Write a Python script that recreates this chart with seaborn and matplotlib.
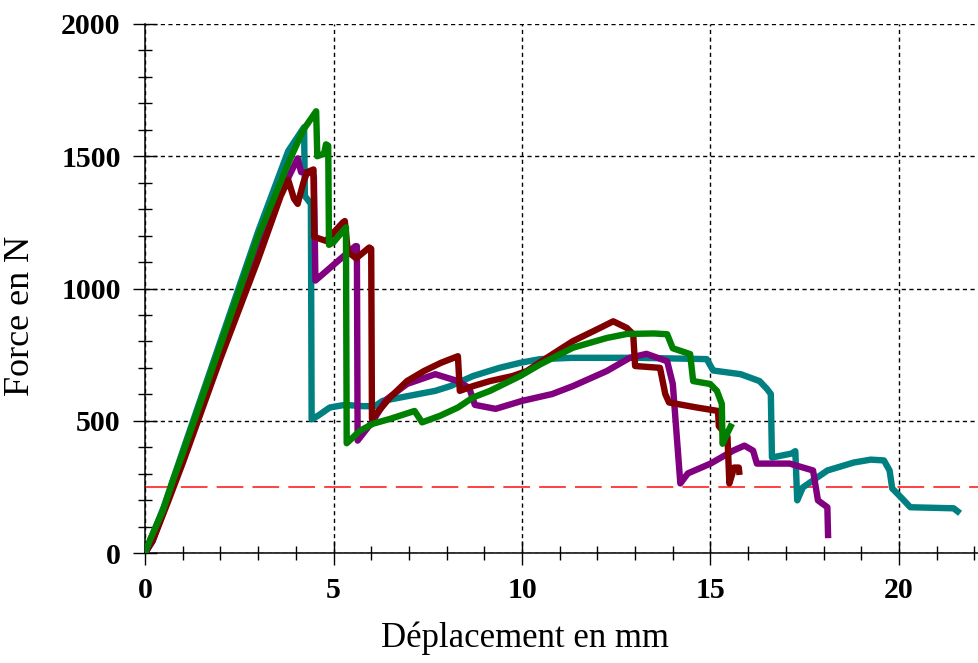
import numpy as np
import pandas as pd
import matplotlib
matplotlib.use("Agg")
import matplotlib.pyplot as plt
from matplotlib.ticker import MultipleLocator
import seaborn as sns

# Force–displacement curves of the tested specimens (mm, N)
teal_x = [0, 0.15, 0.5, 1.0, 2.0, 3.0, 3.8, 4.22, 4.24, 4.40, 4.42, 4.6, 4.9, 5.3, 5.8,
          6.1, 6.3, 7.0, 7.7, 8.1, 8.7, 9.4, 9.95, 10.48, 11.35, 13.0, 14.2, 14.9, 15.07,
          15.8, 16.3, 16.5, 16.6, 16.63, 17.15, 17.25, 17.3, 17.45, 18.1, 18.8, 19.25,
          19.6, 19.75, 19.82, 20.05, 20.3, 21.45, 21.62]
teal_y = [0, 50, 175, 385, 800, 1215, 1520, 1610, 1350, 1320, 505, 520, 550, 560, 555,
          555, 575, 594, 613, 631, 669, 700, 719, 733, 738, 738, 735, 733, 690,
          676, 650, 620, 601, 361, 376, 385, 199, 248, 312, 342, 353,
          350, 312, 244, 211, 173, 169, 150]

purple_x = [0, 0.2, 0.6, 1.0, 2.0, 3.0, 3.6, 4.05, 4.14, 4.45, 4.48, 4.52, 4.6, 5.2,
            5.58, 5.62, 5.64, 6.05, 6.4, 6.95, 7.7, 8.3, 8.6, 8.75, 9.3, 10.0, 10.8,
            11.35, 12.25, 12.86, 13.3, 13.85, 14.0, 14.1, 14.2, 14.4, 15.0, 15.6, 15.9,
            16.13, 16.23, 17.1, 17.72, 17.85, 18.1, 18.12]
purple_y = [0, 50, 200, 350, 750, 1140, 1360, 1492, 1440, 1436, 1420, 1030, 1040, 1114,
            1160, 1160, 425, 500, 580, 639, 676, 650, 624, 560, 545, 575, 601,
            631, 688, 738, 753, 725, 639, 451, 263, 301, 338, 387, 406,
            387, 338, 338, 312, 199, 173, 56]

red_x = [0, 0.2, 0.6, 1.0, 2.0, 3.0, 3.6, 3.8, 3.95, 4.05, 4.2, 4.3, 4.47, 4.49, 4.8,
         5.25, 5.3, 5.38, 5.6, 5.95, 6.0, 6.02, 6.5, 6.95, 7.4, 7.85, 8.3, 8.35, 8.7,
         9.15, 9.75, 10.13, 10.66, 11.35, 12.07, 12.42, 12.78, 12.95, 13.0, 13.66, 13.8,
         13.9, 14.64, 15.2, 15.22, 15.45, 15.5, 15.58, 15.62, 15.75, 15.77]
red_y = [0, 45, 190, 340, 735, 1110, 1350, 1410, 1340, 1320, 1400, 1440, 1450, 1195, 1180,
         1250, 1255, 1139, 1114, 1155, 1150, 507, 588, 650, 688, 719, 744, 613, 631,
         650, 669, 688, 738, 801, 851, 876, 851, 827, 707, 700, 601,
         569, 550, 537, 480, 440, 263, 300, 323, 323, 295]

green_x = [0, 0.13, 0.48, 0.74, 1.0, 2.0, 3.0, 3.82, 4.2, 4.54, 4.57, 4.75, 4.8, 4.86,
           4.88, 5.0, 5.33, 5.35, 5.5, 5.7, 6.05, 6.5, 7.15, 7.35, 7.83, 8.3, 8.7, 9.15,
           9.95, 10.48, 11.35, 12.25, 12.78, 13.5, 13.85, 14.0, 14.46, 14.54, 14.99,
           15.17, 15.3, 15.32, 15.44, 15.57]
green_y = [0, 49, 162, 274, 376, 785, 1195, 1480, 1600, 1670, 1500, 1510, 1545, 1540,
           1165, 1175, 1231, 415, 435, 462, 489, 507, 537, 494, 519, 550, 588, 613,
           669, 713, 776, 813, 828, 830, 827, 774, 752, 650, 639,
           613, 564, 413, 451, 489]

blue_x = [0, 0.2, 0.5]
blue_y = [0, 45, 160]

threshold = 250  # N

series = [
    ("blue", blue_x, blue_y, "#1010e0"),
    ("teal", teal_x, teal_y, "#008080"),
    ("purple", purple_x, purple_y, "#800080"),
    ("red", red_x, red_y, "#800000"),
    ("green", green_x, green_y, "#008000"),
]

frames = []
for name, xs, ys, _ in series:
    frames.append(pd.DataFrame({"d": xs, "f": ys, "essai": name}))
data = pd.concat(frames, ignore_index=True)

sns.set_theme(style="white")
plt.rcParams["font.family"] = ["Liberation Serif", "DejaVu Serif"]
plt.rcParams["text.color"] = "black"
plt.rcParams["xtick.color"] = "black"
plt.rcParams["ytick.color"] = "black"
plt.rcParams["axes.labelcolor"] = "black"

fig = plt.figure(figsize=(9.79, 6.63), dpi=100)
ax = fig.add_axes([145 / 979, 110 / 663, 834 / 979, 529 / 663])

# reference threshold
ax.axhline(threshold, color="#ff2020", lw=1.2, dashes=(16, 5.5), zorder=1)

for z, (name, _, _, col) in enumerate(series):
    sub = data[data["essai"] == name]
    sns.lineplot(data=sub, x="d", y="f", sort=False, estimator=None, color=col,
                 lw=4.6, ax=ax, zorder=3 + z, legend=False,
                 solid_joinstyle="round", solid_capstyle="butt")

ax.set_xlim(0, 834 / 37.7)
ax.set_ylim(0, 2000)
ax.xaxis.set_major_locator(MultipleLocator(5))
ax.xaxis.set_minor_locator(MultipleLocator(1))
ax.yaxis.set_major_locator(MultipleLocator(500))
ax.yaxis.set_minor_locator(MultipleLocator(100))

ax.grid(True, which="major", color="black", lw=1.0, linestyle=(0, (3, 2.5)))
ax.set_axisbelow(True)

for s in ("top", "right"):
    ax.spines[s].set_visible(False)
for s in ("left", "bottom"):
    ax.spines[s].set_color("black")
    ax.spines[s].set_linewidth(1.1)

ax.tick_params(which="major", direction="inout", length=17, width=1.0, color="black",
               labelcolor="black", pad=9, labelsize=21.5)
ax.tick_params(which="minor", direction="inout", length=9.5, width=1.0, color="black")
ax.tick_params(axis="both", which="both", bottom=True, left=True)
for lab in ax.get_xticklabels() + ax.get_yticklabels():
    lab.set_fontweight("bold")

ax.set_xlabel("Déplacement en mm", fontsize=25, color="black")
ax.set_ylabel("Force en N", fontsize=26, color="black")
ax.xaxis.set_label_coords(0.456, -0.13)
ax.yaxis.set_label_coords(-0.1295, 0.448)

fig.savefig("out.png", dpi=100)
